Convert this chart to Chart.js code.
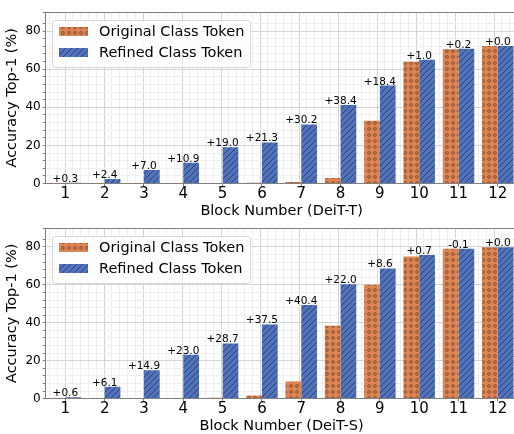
<!DOCTYPE html>
<html>
<head>
<meta charset="utf-8">
<script src="https://cdn.jsdelivr.net/npm/chart.js@4.4.1/dist/chart.umd.min.js"></script>
<style>
  html, body { margin: 0; padding: 0; background: #fff; overflow: hidden; }
  #wrap { position: relative; width: 514px; height: 434px; overflow: hidden; }
  .panel { position: absolute; left: 0; width: 520px; height: 220px; }
  #panelT { top: 0; }
  #panelS { top: 215px; }
</style>
</head>
<body>
<div id="wrap">
  <div class="panel" id="panelT"><canvas id="chartT"></canvas></div>
  <div class="panel" id="panelS"><canvas id="chartS"></canvas></div>
</div>
<script>
// --- Data ---
const blocks = ['1', '2', '3', '4', '5', '6', '7', '8', '9', '10', '11', '12'];
const yTickLabels = [0, 20, 40, 60, 80];
const seriesNames = ['Original Class Token', 'Refined Class Token'];

// DeiT-T
const deitT_orig    = [0.1, 0.1, 0.1, 0.2, 0.2, 0.4, 0.9, 3.0, 33.0, 63.9, 70.5, 72.2];
const deitT_refined = [0.4, 2.4, 7.1, 11.0, 19.1, 21.6, 31.0, 41.2, 51.4, 64.9, 70.7, 72.2];
const deitT_gain    = ['+0.3', '+2.4', '+7.0', '+10.9', '+19.0', '+21.3', '+30.2', '+38.4', '+18.4', '+1.0', '+0.2', '+0.0'];

// DeiT-S
const deitS_orig    = [0.1, 0.2, 0.2, 0.3, 0.5, 1.6, 9.0, 38.4, 60.0, 75.0, 79.1, 79.8];
const deitS_refined = [0.7, 6.3, 15.0, 23.1, 29.1, 39.1, 49.4, 60.3, 68.7, 75.8, 79.0, 79.8];
const deitS_gain    = ['+0.6', '+6.1', '+14.9', '+23.0', '+28.7', '+37.5', '+40.4', '+22.0', '+8.6', '+0.7', '-0.1', '+0.0'];

Chart.defaults.font.family = '"DejaVu Sans", sans-serif';
Chart.defaults.color = '#000';

// hatch patterns (matplotlib 'o' and '///')
function dotPattern() {
    const c = document.createElement('canvas');
    c.width = 6; c.height = 6;
    const g = c.getContext('2d');
    g.fillStyle = '#dd8452';
    g.fillRect(0, 0, 6, 6);
    g.strokeStyle = 'rgba(30,20,15,0.62)';
    g.lineWidth = 0.7;
    g.beginPath();
    g.arc(3, 3, 1.4, 0, Math.PI * 2);
    g.stroke();
    return g.createPattern(c, 'repeat');
}

function slashPattern() {
    const c = document.createElement('canvas');
    c.width = 6; c.height = 6;
    const g = c.getContext('2d');
    g.fillStyle = '#5173bb';
    g.fillRect(0, 0, 6, 6);
    g.strokeStyle = 'rgba(20,25,55,0.7)';
    g.lineWidth = 0.8;
    g.beginPath();
    g.moveTo(-1, 7); g.lineTo(7, -1);
    g.moveTo(-4, 4); g.lineTo(4, -4);
    g.moveTo(2, 10); g.lineTo(10, 2);
    g.stroke();
    return g.createPattern(c, 'repeat');
}

function xGridColor(c) {
    if (!c.tick) return '#d4d4d4';
    const k = Math.round(c.tick.value * 10);
    if (k % 10 === 0) return '#d4d4d4';
    if (k % 2 === 0) return '#efefef';
    return 'rgba(0,0,0,0)';
}

function yGridColor(c) {
    if (!c.tick) return '#d4d4d4';
    return c.tick.value % 20 === 0 ? '#d4d4d4' : '#efefef';
}

function makeChart(canvasId, orig, refined, gains, xTitle, pad) {
    // "+x.x" numbers over each pair of bars
    const gainLabels = {
        id: 'gainLabels',
        afterDatasetsDraw(chart) {
            const ctx = chart.ctx;
            const a = chart.getDatasetMeta(0).data;
            const b = chart.getDatasetMeta(1).data;
            ctx.save();
            ctx.font = '10.5px "DejaVu Sans"';
            ctx.fillStyle = '#000';
            ctx.textAlign = 'center';
            ctx.textBaseline = 'alphabetic';
            gains.forEach((txt, i) => {
                const x = (a[i].x + b[i].x) / 2;
                const y = Math.min(a[i].y, b[i].y) - 1;
                ctx.fillText(txt, x, y);
            });
            ctx.restore();
        }
    };

    // legend box in the upper left, matplotlib style
    const boxLegend = {
        id: 'boxLegend',
        afterDatasetsDraw(chart) {
            const { ctx, chartArea } = chart;
            const x0 = Math.round(chartArea.left + 6), y0 = Math.round(chartArea.top + 8);
            ctx.save();
            ctx.beginPath();
            ctx.roundRect(x0 + 0.5, y0 + 0.5, 198, 47, 3);
            ctx.fillStyle = 'rgba(255,255,255,0.8)';
            ctx.fill();
            ctx.strokeStyle = '#d6d6d6';
            ctx.lineWidth = 1;
            ctx.stroke();
            ctx.font = '14.5px "DejaVu Sans"';
            ctx.textBaseline = 'middle';
            chart.data.datasets.forEach((ds, i) => {
                const py = y0 + 7 + i * 21;
                ctx.fillStyle = ds.backgroundColor;
                ctx.fillRect(x0 + 7, py, 29, 9);
                ctx.fillStyle = '#000';
                ctx.fillText(ds.label, x0 + 47, py + 5);
            });
            ctx.restore();
        }
    };

    return new Chart(document.getElementById(canvasId), {
        type: 'bar',
        data: {
            labels: blocks,
            datasets: [
                { label: seriesNames[0], data: orig, backgroundColor: dotPattern(), xAxisID: 'x', yAxisID: 'y',
                  categoryPercentage: 0.8, barPercentage: 1.0, borderWidth: 0 },
                { label: seriesNames[1], data: refined, backgroundColor: slashPattern(), xAxisID: 'x', yAxisID: 'y',
                  categoryPercentage: 0.8, barPercentage: 1.0, borderWidth: 0 }
            ]
        },
        options: {
            responsive: true,
            maintainAspectRatio: false,
            animation: false,
            devicePixelRatio: 1,
            layout: { padding: pad },
            plugins: { legend: { display: false }, tooltip: { enabled: false } },
            scales: {
                x: {
                    type: 'category',
                    offset: true,
                    grid: { display: true, drawOnChartArea: false, offset: false, tickLength: 3, tickColor: '#808080' },
                    border: { color: '#808080' },
                    ticks: { font: { size: 15, lineHeight: 1 }, color: '#000', padding: 0 },
                    title: { display: true, text: xTitle, font: { size: 14.5 }, color: '#000', padding: { top: 1, bottom: 0 } }
                },
                // vertical major/minor grid only
                xg: {
                    type: 'linear',
                    position: 'top',
                    min: 0.5,
                    max: 12.5,
                    ticks: { display: false, stepSize: 0.1, autoSkip: false },
                    grid: { drawTicks: false, color: xGridColor },
                    border: { display: true, color: '#808080' }
                },
                y: {
                    min: 0,
                    max: 90,
                    ticks: {
                        stepSize: 4,
                        autoSkip: false,
                        font: { size: 12 },
                        color: '#000',
                        padding: 2,
                        callback: (v) => yTickLabels.includes(v) ? String(v) : ''
                    },
                    grid: { tickLength: 3, tickColor: '#808080', color: yGridColor },
                    border: { color: '#808080' },
                    title: { display: true, text: 'Accuracy Top-1 (%)', font: { size: 14.5 }, color: '#000', padding: { top: 0, bottom: 2 } }
                }
            }
        },
        plugins: [gainLabels, boxLegend]
    });
}

makeChart('chartT', deitT_orig, deitT_refined, deitT_gain, 'Block Number (DeiT-T)',
    { left: 4, top: 12, right: 2.5, bottom: 0 });
makeChart('chartS', deitS_orig, deitS_refined, deitS_gain, 'Block Number (DeiT-S)',
    { left: 4, top: 13, right: 2.5, bottom: 0 });
</script>
</body>
</html>
